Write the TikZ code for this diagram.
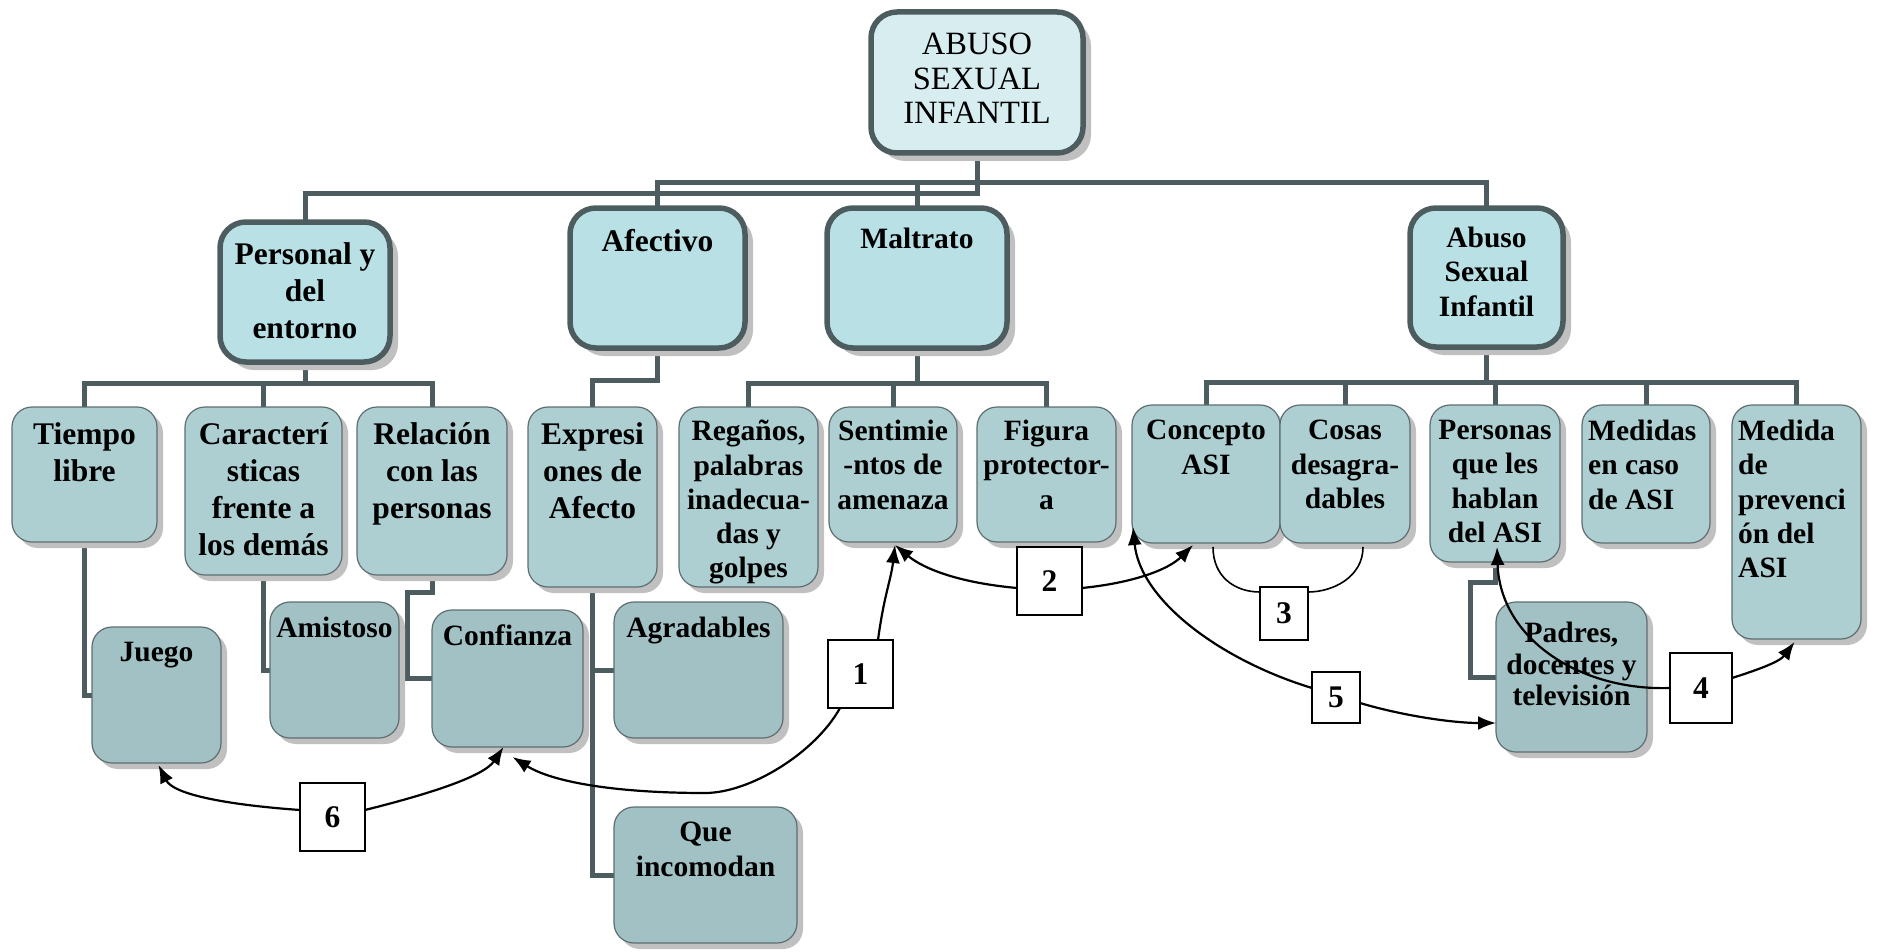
\documentclass[tikz,border=0pt]{standalone}
\usepackage{fontspec}
\setmainfont{Liberation Serif}
\usetikzlibrary{arrows.meta,shadows,calc}
\pgfdeclarelayer{bg}
\pgfsetlayers{bg,main}
\definecolor{lvlonefill}{HTML}{B9E0E4}
\definecolor{topfill}{HTML}{D7EDF0}
\definecolor{lvltwofill}{HTML}{AECFD2}
\definecolor{lvlthreefill}{HTML}{A1C1C4}
\definecolor{darkline}{HTML}{4D5D5F}
\definecolor{thinline}{HTML}{5E6E70}
\definecolor{shadowgray}{HTML}{C0C0C0}
\tikzset{
  bigbox/.style={rectangle, rounded corners=26pt, draw=darkline, line width=5.5pt, fill=lvlonefill,
    drop shadow={shadow xshift=8pt, shadow yshift=-8pt, fill=shadowgray, opacity=1}, inner sep=0pt, outer sep=0pt},
  topbox/.style={bigbox, fill=topfill},
  midbox/.style={rectangle, rounded corners=20pt, draw=thinline, line width=1.2pt, fill=lvltwofill,
    drop shadow={shadow xshift=6pt, shadow yshift=-6pt, fill=shadowgray, opacity=1}, inner sep=0pt, outer sep=0pt},
  lowbox/.style={midbox, fill=lvlthreefill},
  numbox/.style={rectangle, draw=black, line width=1.8pt, fill=white, inner sep=0pt, outer sep=0pt,
    font=\fontsize{31.5}{37}\selectfont\bfseries},
  ttop/.style={font=\fontsize{32.5}{34.5}\selectfont, align=center, inner sep=0pt},
  tbig/.style={font=\fontsize{31.5}{37}\selectfont\bfseries, align=center, inner sep=0pt},
  tsmall/.style={font=\fontsize{29.5}{34.3}\selectfont\bfseries, align=center, inner sep=0pt},
  conn/.style={draw=darkline, line width=5pt},
  arr/.style={draw=black, line width=2.2pt, -{Latex[length=18pt,width=14pt]}},
  thinarc/.style={draw=black, line width=1.6pt}
}
\newcommand\mybox[7]{%
  \pgfmathsetmacro\myW{#5-#3}\pgfmathsetmacro\myH{#6-#4}%
  \node[#1, minimum width=\myW pt, minimum height=\myH pt] (#2) at ({(#3+#5)/2},{(#4+#6)/2}) {#7};}
\newcommand\mytext[5]{\node[#1, anchor=north] (#2) at ([yshift=-#4pt]#3.north) {#5};}
\begin{document}
\begin{tikzpicture}[x=1pt,y=-1pt]
\useasboundingbox (0,0) rectangle (1878,952);
% level 0 / 1
\mybox{topbox}{top}{871}{12}{1083}{153}{}
\mybox{bigbox}{pers}{220}{222}{390}{362}{}
\mybox{bigbox}{afect}{570}{208}{745}{348}{}
\mybox{bigbox}{maltr}{827}{208}{1007}{348}{}
\mybox{bigbox}{abuso}{1410}{208}{1563}{347}{}
% level 2
\mybox{midbox}{tiempo}{12}{407}{157}{542}{}
\mybox{midbox}{carac}{185}{407}{342}{575}{}
\mybox{midbox}{rel}{357}{407}{507}{575}{}
\mybox{midbox}{expr}{528}{407}{657}{587}{}
\mybox{midbox}{reg}{679}{407}{818}{587}{}
\mybox{midbox}{sent}{829}{407}{957}{542}{}
\mybox{midbox}{fig}{977}{407}{1116}{542}{}
\mybox{midbox}{conc}{1132}{405}{1280}{543}{}
\mybox{midbox}{cosas}{1280}{405}{1410}{543}{}
\mybox{midbox}{perso}{1430}{405}{1560}{562}{}
\mybox{midbox}{medc}{1582}{405}{1710}{543}{}
\mybox{midbox}{medp}{1732}{405}{1861}{639}{}
% level 3
\mybox{lowbox}{juego}{92}{627}{221}{763}{}
\mybox{lowbox}{amist}{270}{602}{399}{738}{}
\mybox{lowbox}{conf}{432}{610}{583}{747}{}
\mybox{lowbox}{agrad}{614}{602}{783}{738}{}
\mybox{lowbox}{que}{614}{807}{797}{943}{}
\mybox{lowbox}{padres}{1496}{602}{1647}{752}{}
% texts
\mytext{ttop}{top-t}{top}{21}{ABUSO\\SEXUAL\\INFANTIL}
\mytext{tbig}{pers-t}{pers}{20}{Personal y\\del\\entorno}
\mytext{tbig}{afect-t}{afect}{21}{Afectivo}
\mytext{tsmall}{maltr-t}{maltr}{20}{Maltrato}
\mytext{tsmall}{abuso-t}{abuso}{19}{Abuso\\Sexual\\Infantil}
\mytext{tbig}{tiempo-t}{tiempo}{15}{Tiempo\\libre}
\mytext{tbig}{carac-t}{carac}{15}{Caracterí\\sticas\\frente a\\los demás}
\mytext{tbig}{rel-t}{rel}{15}{Relación\\con las\\personas}
\mytext{tbig}{expr-t}{expr}{15}{Expresi\\ones de\\Afecto}
\mytext{tsmall}{reg-t}{reg}{13}{Regaños,\\palabras\\inadecua-\\das y\\golpes}
\mytext{tsmall}{sent-t}{sent}{13}{Sentimie\\-ntos de\\amenaza}
\mytext{tsmall}{fig-t}{fig}{13}{Figura\\protector-\\a}
\mytext{tsmall}{conc-t}{conc}{15}{Concepto\\ASI}
\mytext{tsmall}{cosas-t}{cosas}{15}{Cosas\\desagra-\\dables}
\mytext{tsmall}{perso-t}{perso}{15}{Personas\\que les\\hablan\\del ASI}
\node[tsmall, align=left, anchor=north west] (medc-t) at ([xshift=6pt,yshift=-15pt]medc.north west) {Medidas\\en caso\\de ASI};
\node[tsmall, align=left, anchor=north west] (medp-t) at ([xshift=6pt,yshift=-15pt]medp.north west) {Medida\\de\\prevenci\\ón del\\ASI};
\mytext{tsmall}{juego-t}{juego}{15}{Juego}
\mytext{tsmall}{amist-t}{amist}{15}{Amistoso}
\mytext{tsmall}{conf-t}{conf}{15}{Confianza}
\mytext{tsmall}{agrad-t}{agrad}{15}{Agradables}
\mytext{tsmall}{que-t}{que}{15}{Que\\incomodan}
\node[tsmall, font=\fontsize{29.5}{31.5}\selectfont\bfseries, anchor=north] (padres-t) at ([yshift=-20pt]padres.north) {Padres,\\docentes y\\televisión};
% connectors
\begin{pgfonlayer}{bg}
\draw[conn] (top.south) -- ++(0,41) -| (pers.north);
\draw[conn] (afect.north) -- ++(0,-25) -| (abuso.north);
\draw[conn] (maltr.north) -- ++(0,-25);
\draw[conn] (pers.south) -- ++(0,21) coordinate (pj);
\draw[conn] (tiempo.north) |- (pj) -| (rel.north);
\draw[conn] (carac.north) -- (carac.north |- pj);
\draw[conn] (afect.south) -- ++(0,32) -| (expr.north);
\draw[conn] (maltr.south) -- ++(0,35) coordinate (mj);
\draw[conn] (reg.north) |- (mj) -| (fig.north);
\draw[conn] (sent.north) -- (sent.north |- mj);
\draw[conn] (abuso.south) -- ++(0,35) coordinate (aj);
\draw[conn] (conc.north) |- (aj) -| (medp.north);
\draw[conn] (cosas.north) -- (cosas.north |- aj);
\draw[conn] (perso.north) -- (perso.north |- aj);
\draw[conn] (medc.north) -- (medc.north |- aj);
\draw[conn] (tiempo.south) |- (juego.west);
\draw[conn] (carac.south) |- (amist.west);
\draw[conn] (rel.south) -- ++(0,17) -- ++(-25,0) |- (conf.west);
\draw[conn] (expr.south) |- (agrad.west);
\draw[conn] (expr.south) |- (que.west);
\draw[conn] (perso.south) -- ++(0,20) -- ++(-25,0) |- (padres.west);
\end{pgfonlayer}
% number boxes
\mybox{numbox}{n1}{828}{640}{893}{708}{1}
\mybox{numbox}{n2}{1017}{547}{1082}{615}{2}
\mybox{numbox}{n3}{1260}{587}{1308}{640}{3}
\mybox{numbox}{n4}{1670}{653}{1732}{723}{4}
\mybox{numbox}{n5}{1312}{672}{1360}{723}{5}
\mybox{numbox}{n6}{300}{783}{365}{851}{6}
% relation arrows
\coordinate (m1) at (705,793);
\draw[arr] ([xshift=-15pt]n1.north east) .. controls +(6,-45) and +(-4,35) .. ([xshift=2pt,yshift=-3pt]sent.south);
\draw[arr] ([xshift=12pt]n1.south west) .. controls +(-25,45) and +(45,0) .. (m1) .. controls +(-90,0) and +(40,25) .. ([xshift=5pt,yshift=-10pt]conf.south);
\draw[arr] ([yshift=7pt]n6.west) .. controls +(-70,-5) and +(15,30) .. ([xshift=2pt,yshift=-2pt]juego.south);
\draw[arr] ([yshift=7pt]n6.east) .. controls +(60,-15) and +(-20,30) .. ([xshift=-4pt]conf.south);
\draw[arr] ([yshift=-7pt]n2.west) .. controls +(-55,-5) and +(30,25) .. ([xshift=2pt,yshift=-3pt]sent.south);
\draw[arr] ([yshift=-7pt]n2.east) .. controls +(50,-5) and +(-25,25) .. ([xshift=-13pt,yshift=-2pt]conc.south);
\draw[thinarc] ([xshift=7pt,yshift=-4pt]conc.south) .. controls +(0,30) and +(-25,0) .. ([yshift=-5pt]n3.north west);
\draw[thinarc] ([xshift=18pt,yshift=-4pt]cosas.south) .. controls +(0,30) and +(25,0) .. ([yshift=-5pt]n3.north east);
\draw[arr] ([yshift=-16pt]n5.north west) .. controls +(-92,-28) and +(7,73) .. ([xshift=1pt,yshift=16pt]conc.south west);
\draw[arr] ([yshift=-5.5pt]n5.east) .. controls +(40,12) and +(-45,0) .. ([yshift=-46pt]padres.west);
\draw[arr] (n4.west) .. controls +(-90,3) and +(3,92) .. ([xshift=2pt,yshift=15pt]perso.south);
\draw[arr] ([yshift=10pt]n4.east) .. controls +(25,-8) and +(-15,20) .. ([xshift=-2pt,yshift=-3pt]medp.south);
\end{tikzpicture}
\end{document}
